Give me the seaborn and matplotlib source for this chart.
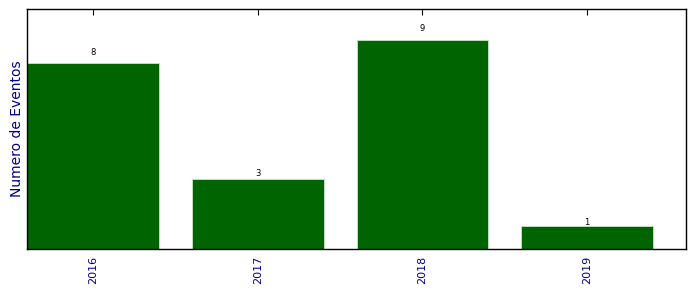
import matplotlib
matplotlib.use("Agg")
import matplotlib.pyplot as plt
import seaborn as sns
import pandas as pd

years = ["2016", "2017", "2018", "2019"]
counts = [8, 3, 9, 1]

sns.set_style("white")
plt.rcParams['font.family'] = ['DejaVu Sans']

df = pd.DataFrame({"year": years, "count": counts})

fig = plt.figure(figsize=(6.96, 2.92), dpi=100)
ax = fig.add_axes([27/696, 1-249/292, (686-27)/696, (249-9)/292])
sns.barplot(data=df, x="year", y="count", color="#006400", saturation=1,
            width=0.8, edgecolor="#c8e6c8", linewidth=0.6, ax=ax)

for i, v in enumerate(counts):
    ax.annotate(str(v), (i, v * 1.045), xytext=(0, -1.5), textcoords="offset points",
                ha="center", va="bottom", fontsize=6, color="black")

ax.set_xlim(-0.4, 3.6)
ax.set_ylim(0, max(counts) * 1.15)
ax.set_yticks([])
ax.set_xlabel("")
ax.set_ylabel("Numero de Eventos", color="#00008b", fontsize=10, labelpad=2)
ax.tick_params(axis="x", direction="in", top=True, bottom=True, length=4,
               width=0.8, color="black", labelrotation=90, labelsize=8,
               labelcolor="#00008b", pad=5)
for s in ax.spines.values():
    s.set_visible(True)
    s.set_color("black")
    s.set_linewidth(1.0)

fig.savefig("out.png", dpi=100)
